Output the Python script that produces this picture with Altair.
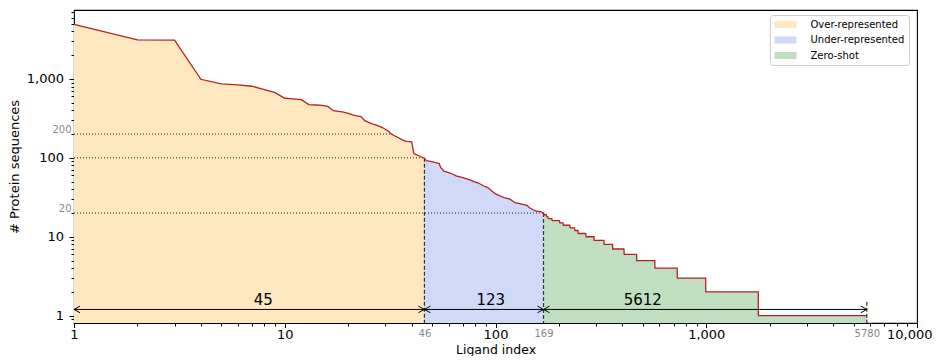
import altair as alt
import pandas as pd

# ---------------- data ----------------
ligand_index = list(range(1, 47)) + [
    47, 49, 51, 53, 54, 55, 57, 60, 63, 65, 70, 75, 79, 83, 88, 92, 96, 100,
    105, 111, 117, 124, 133, 141, 146, 151, 157, 163, 169,
    170, 174, 175, 177, 178, 185, 186, 201, 202, 209, 210, 225, 226, 237,
    238, 246, 247, 268, 269, 293, 294, 327, 328, 359, 360, 407, 408, 467,
    468, 570, 571, 728, 729, 994, 995, 1766, 1767, 5780]
protein_count = [
    4920, 3120, 3100, 990, 864, 839, 808, 731, 670, 569,
    558, 547, 472, 467, 461, 448, 396, 387, 380, 365,
    350, 340, 334, 296, 281, 269, 262, 252, 242, 230,
    218, 201, 192, 184, 177, 170, 164, 162, 161, 160,
    113, 110, 107, 104, 101, 99] + [
    92, 90, 88, 86, 85, 75, 68, 65, 62, 59, 56, 53, 50, 48, 44, 42, 38, 35,
    33, 31, 30, 27, 26, 25, 23, 22, 21, 21, 20,
    19, 19, 18, 18, 17, 17, 16, 16, 15, 15, 14, 14, 13, 13,
    12, 12, 11, 11, 10, 10, 9, 9, 8, 8, 7, 7, 6, 6,
    5, 5, 4, 4, 3, 3, 2, 2, 1, 1]

group_names = ["Over-represented", "Under-represented", "Zero-shot"]
group_lo = [1, 46, 169]
group_hi = [46, 169, 5780]
group_colors = ["#FFE7C0", "#D0D9F7", "#C0DFC0"]

threshold_y = [200, 100, 20]
threshold_x_end = [32, 46, 169]

split_x = [46, 169, 5780]
split_top = [100, 20, 1.5]

arrow_start = [1, 46, 169]
arrow_end = [46, 169, 5780]
arrow_text = ["45", "123", "5612"]
arrow_text_x = [7.9, 95, 500]
ARROW_Y = 1.2

x_major = [1, 10, 100, 1000]
x_last = [10000]
x_minor = [2, 3, 4, 5, 6, 7, 8, 9, 20, 30, 40, 50, 60, 70, 80, 90,
           200, 300, 400, 500, 600, 700, 800, 900,
           2000, 3000, 4000, 5000, 6000, 7000, 8000, 9000]
x_marked = [46, 169, 5780]
y_major = [1, 10, 100, 1000]
y_minor = [0.9, 2, 3, 4, 5, 6, 7, 8, 9, 20, 30, 40, 50, 60, 70, 80, 90,
           200, 300, 400, 500, 600, 700, 800, 900,
           2000, 3000, 4000, 5000, 6000, 7000]
y_marked = [20, 200]

X_MIN, X_MAX = 1, 10000
Y_MIN, Y_MAX = 0.808, 7470
FONT = "DejaVu Sans"

# ---------------- tables ----------------
line_df = pd.DataFrame({"idx": ligand_index, "count": protein_count})
rows = []
for name, lo, hi in zip(group_names, group_lo, group_hi):
    for i, c in zip(ligand_index, protein_count):
        if lo <= i <= hi:
            rows.append({"idx": i, "count": c, "group": name})
area_df = pd.DataFrame(rows)
area_df["base"] = Y_MIN

thr_df = pd.DataFrame({"x0": [X_MIN] * len(threshold_y), "x1": threshold_x_end, "y": threshold_y})
split_df = pd.DataFrame({"x": split_x, "top": split_top, "base": [Y_MIN] * len(split_x)})
arrow_df = pd.DataFrame({"s": arrow_start, "e": arrow_end, "t": arrow_text,
                         "tx": arrow_text_x, "y": [ARROW_Y] * len(arrow_start)})

xs = alt.Scale(type="log", domain=[X_MIN, X_MAX], nice=False)
ys = alt.Scale(type="log", domain=[Y_MIN, Y_MAX], nice=False)

common_axis = dict(domain=False, grid=False, tickColor="black", tickWidth=1,
                   labelFont=FONT, titleFont=FONT, labelOverlap=False, labelFlush=False)

# ---------------- layers ----------------
areas = alt.Chart(area_df).mark_area(opacity=1, interpolate="linear").encode(
    x=alt.X("idx:Q", scale=xs, axis=alt.Axis(
        values=x_major, format=",", title="Ligand index", orient="bottom",
        labelFontSize=13, tickSize=4.5, labelPadding=1,
        titleFontSize=12.5, titleFontWeight="normal", titleY=30.5,
        titleBaseline="alphabetic",
        labelColor="black", titleColor="black", **common_axis)),
    y=alt.Y("count:Q", scale=ys, stack=None, axis=alt.Axis(
        values=y_major, format=",", title="# Protein sequences", orient="left",
        labelFontSize=13, tickSize=5, labelPadding=5.5,
        titleFontSize=13, titleFontWeight="normal", titlePadding=5,
        labelColor="black", titleColor="black", **common_axis)),
    y2="base:Q",
    color=alt.Color("group:N", scale=alt.Scale(domain=group_names, range=group_colors),
                    legend=alt.Legend(
                        title=None, orient="none", legendX=696, legendY=5,
                        symbolType="M-2.2,-0.7H2.2V0.7H-2.2Z", symbolSize=100,
                        symbolStrokeWidth=0, symbolOffset=6, labelOffset=20,
                        symbolOpacity=1, labelFontSize=10, labelFont=FONT,
                        labelColor="black", padding=4.5, rowPadding=5.5,
                        fillColor="white", strokeColor="#cccccc", cornerRadius=3)),
)

curve = alt.Chart(line_df).mark_line(color="#B22222", strokeWidth=1.3).encode(
    x=alt.X("idx:Q", scale=xs, axis=alt.Axis(
        values=x_minor, labels=False, tickSize=3, title=None, orient="bottom", **common_axis)),
    y=alt.Y("count:Q", scale=ys, axis=alt.Axis(
        values=y_minor, labels=False, tickSize=3, title=None, orient="left", **common_axis)),
)

thresholds = alt.Chart(thr_df).mark_rule(color="black", strokeDash=[1, 2], strokeWidth=1, opacity=0.85).encode(
    x=alt.X("x0:Q", scale=xs, axis=alt.Axis(
        values=x_marked, format="d", ticks=False, title=None, orient="bottom", labelFontSize=10,
        labelColor="#888888", labelPadding=5.5, **common_axis)),
    x2="x1:Q",
    y=alt.Y("y:Q", scale=ys, axis=alt.Axis(
        values=y_marked, format="d", ticks=False, title=None, orient="left", labelFontSize=10,
        labelColor="#888888", labelPadding=3, labelBaseline="bottom", **common_axis)),
)

splits = alt.Chart(split_df).mark_rule(color="#333333", strokeDash=[4, 2], strokeWidth=1.2).encode(
    x=alt.X("x:Q", scale=xs, axis=None),
    y=alt.Y("top:Q", scale=ys, axis=None),
    y2="base:Q",
)

arrows = alt.Chart(arrow_df).mark_rule(color="black", strokeWidth=1).encode(
    x=alt.X("s:Q", scale=xs, axis=alt.Axis(
        values=x_last, format=",", title=None, orient="bottom", labelFontSize=13,
        tickSize=4.5, labelPadding=1, labelAlign="right", labelOffset=15,
        labelColor="black", **common_axis)),
    x2="e:Q",
    y=alt.Y("y:Q", scale=ys, axis=None),
)

head_left = alt.Chart(arrow_df).mark_point(
    shape="M1,-0.55L0,0L1,0.55", filled=False, size=144, color="black",
    strokeWidth=1, opacity=1).encode(
    x=alt.X("s:Q", scale=xs, axis=None),
    y=alt.Y("y:Q", scale=ys, axis=None),
)

head_right = alt.Chart(arrow_df).mark_point(
    shape="M-1,-0.55L0,0L-1,0.55", filled=False, size=144, color="black",
    strokeWidth=1, opacity=1).encode(
    x=alt.X("e:Q", scale=xs, axis=None),
    y=alt.Y("y:Q", scale=ys, axis=None),
)

labels = alt.Chart(arrow_df).mark_text(
    font=FONT, fontSize=15, color="black", baseline="alphabetic", dy=-4).encode(
    x=alt.X("tx:Q", scale=xs, axis=None),
    y=alt.Y("y:Q", scale=ys, axis=None),
    text="t:N",
)

chart = alt.layer(
    areas, thresholds, splits, curve, arrows, head_left, head_right, labels
).resolve_axis(
    x="independent", y="independent"
).properties(
    width=843, height=313,
    autosize=alt.AutoSizeParams(type="none"),
    padding={"left": 66, "top": 2, "right": 16, "bottom": 33},
).configure(font=FONT).configure_view(stroke="black", strokeWidth=1.1)

chart.save("out.html", embed_options={"renderer": "svg", "actions": False})
